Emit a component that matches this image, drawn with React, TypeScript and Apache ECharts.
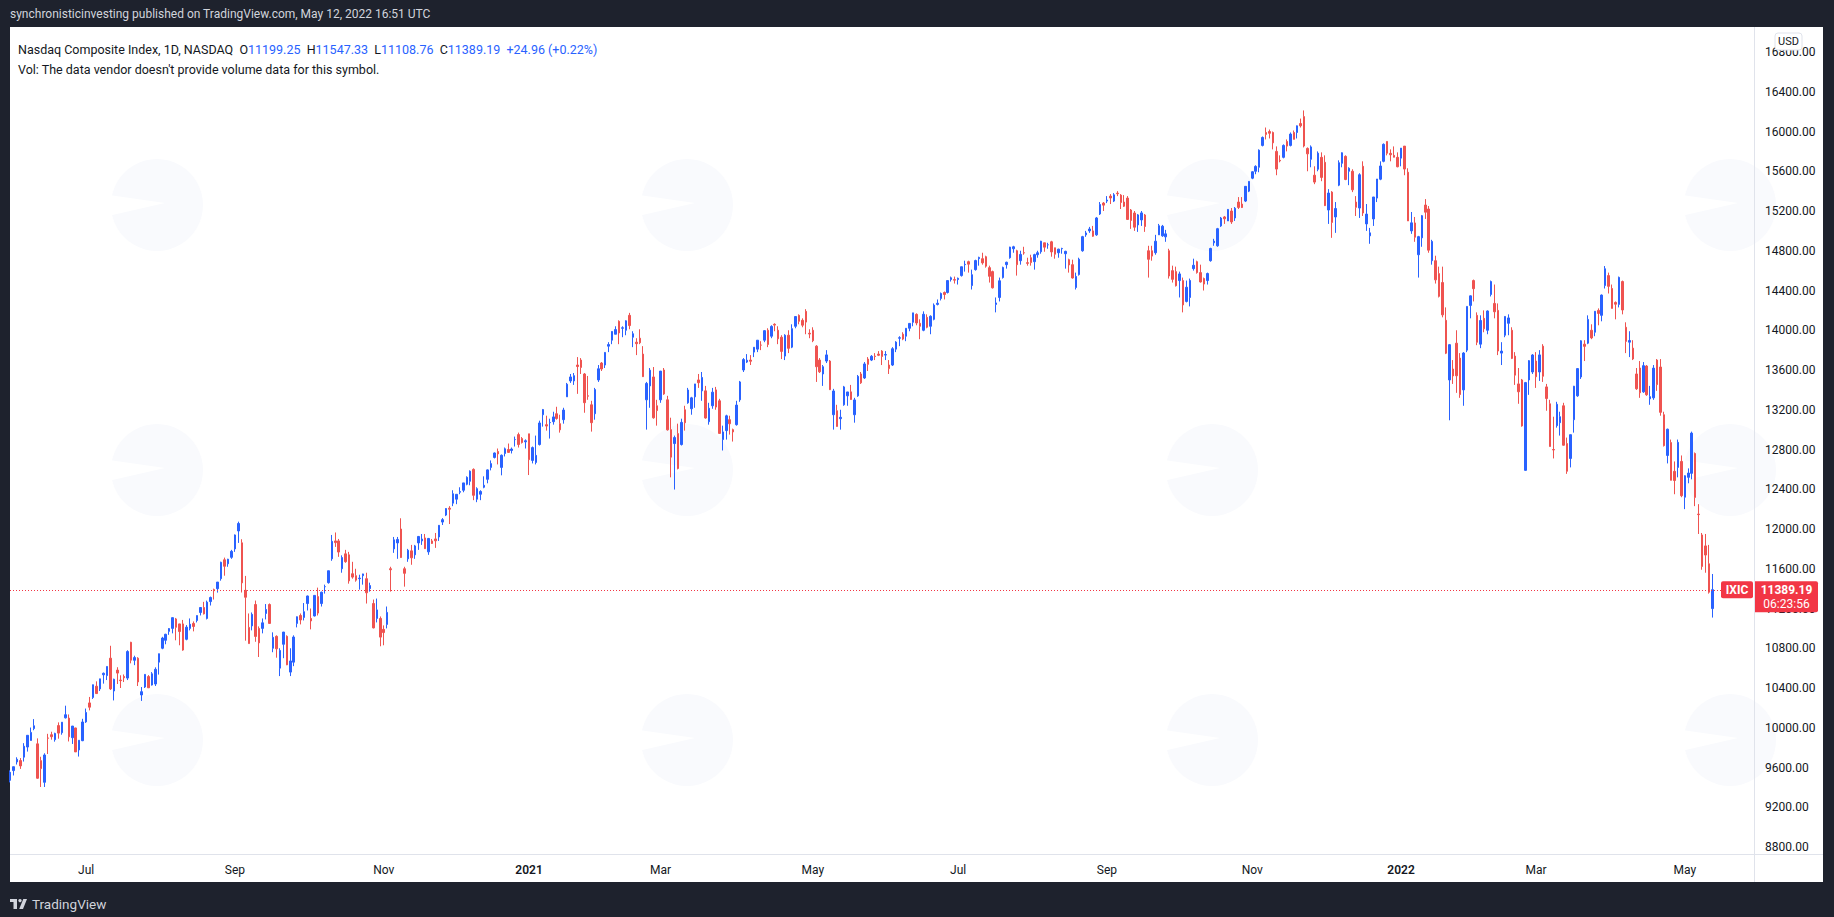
import React, { useEffect, useRef } from "react";
import * as echarts from "echarts";

// ---- Daily candles, Nasdaq Composite, [open, high, low, close] ----
const ohlc2020: number[][] = [
  // Jun
  [9471,9571,9450,9552],[9569,9608,9520,9608],[9656,9703,9630,9683],[9670,9695,9586,9616],[9704,9845,9660,9814],
  [9806,9925,9760,9924],[9872,10002,9870,9953],[9992,10087,9975,10020],[9838,9893,9487,9492],[9669,9708,9404,9589],
  [9451,9743,9404,9726],[9897,9939,9736,9895],[9930,9960,9880,9910],[9880,9950,9860,9943],[10022,10054,9890,9946],
  [9950,10057,9930,10056],[10100,10222,10093,10131],[10097,10134,9862,9909],[9900,10018,9837,10017],[9998,10000,9756,9757],
  [9777,9875,9710,9874],[9870,10090,9865,10058],
  // Jul
  [10059,10193,10049,10154],[10250,10310,10175,10207],[10305,10434,10290,10433],[10418,10467,10342,10344],[10391,10493,10370,10492],
  [10533,10556,10444,10548],[10525,10617,10480,10617],[10700,10825,10380,10391],[10370,10494,10275,10488],[10580,10609,10440,10550],
  [10480,10528,10400,10474],[10516,10536,10460,10503],[10500,10780,10480,10767],[10860,10865,10648,10680],[10679,10725,10630,10706],
  [10700,10710,10420,10461],[10330,10410,10270,10363],[10410,10540,10400,10537],[10515,10530,10400,10402],[10430,10560,10425,10543],
  [10440,10608,10420,10588],[10660,10746,10535,10745],
  // Aug
  [10800,10915,10790,10903],[10880,10945,10840,10941],[10970,11002,10935,10998],[11000,11110,10950,11108],[11095,11105,10880,11011],
  [11045,11046,10830,10968],[11045,11085,10775,10782],[10890,11033,10880,11012],[11000,11100,10980,11042],[11050,11070,10970,11019],
  [11080,11130,11060,11129],[11160,11212,11130,11210],[11210,11267,11140,11146],[11100,11279,11090,11264],[11270,11320,11230,11311],
  [11390,11400,11290,11379],[11400,11466,11360,11466],[11500,11671,11480,11665],[11690,11712,11530,11625],[11650,11700,11620,11696],
  [11715,11790,11700,11775],
  // Sep
  [11800,11945,11770,11940],[11980,12074,11860,12056],[11861,11897,11361,11458],[11383,11528,10876,11313],[11010,11150,10846,10847],
  [11025,11160,10980,11141],[11240,11280,10865,10919],[11000,11020,10712,10854],[11000,11100,10950,11056],[11150,11245,11090,11190],
  [11240,11251,11050,11050],[10800,10960,10760,10910],[10920,10930,10705,10794],[10600,10800,10520,10778],[10840,10964,10700,10963],
  [10920,10930,10630,10633],[10560,10800,10520,10672],[10660,10930,10620,10913],[11050,11120,11010,11117],[11130,11150,11040,11085],
  [11110,11255,11080,11168],
  // Oct
  [11250,11330,11180,11326],[11100,11200,10990,11075],[11125,11335,11120,11332],[11320,11410,11130,11154],[11250,11370,11220,11364],
  [11420,11440,11350,11420],[11460,11580,11450,11580],[11700,11940,11680,11876],[11880,11965,11820,11863],[11880,11900,11720,11768],
  [11600,11735,11560,11713],[11750,11790,11660,11671],[11740,11770,11450,11478],[11550,11670,11500,11516],[11530,11600,11470,11485],
  [11500,11540,11390,11506],[11530,11550,11440,11548],[11500,11560,11250,11358],[11400,11460,11370,11431],[11250,11290,11000,11005],
  [11100,11300,11060,11186],[11100,11120,10820,10912],
  // Nov
  [10990,11030,10830,10958],[11040,11220,11000,11161],[11600,11620,11370,11590],[11800,11920,11760,11891],[11860,11920,11700,11895],
  [12000,12108,11710,11713],[11600,11620,11420,11554],[11700,11800,11670,11786],[11780,11840,11640,11710],[11740,11840,11700,11830],
  [11860,11930,11790,11925],[11880,11950,11840,11899],[11910,11950,11800,11802],[11770,11910,11740,11905],[11880,11900,11850,11855],
  [11900,11960,11810,11881],[11920,12040,11880,12037],[12070,12110,12040,12094],[12140,12210,12130,12206],[12210,12230,12050,12199],
  // Dec
  [12260,12390,12230,12355],[12300,12350,12250,12349],[12370,12420,12350,12377],[12390,12464,12370,12464],[12450,12530,12440,12520],
  [12480,12590,12440,12582],[12600,12610,12290,12339],[12300,12420,12270,12406],[12350,12390,12290,12378],[12420,12530,12410,12440],
  [12500,12600,12460,12595],[12620,12690,12590,12658],[12720,12770,12710,12765],[12780,12810,12650,12756],[12620,12750,12540,12742],
  [12760,12820,12730,12807],[12800,12860,12770,12771],[12790,12820,12760,12805],[12900,12930,12830,12900],[12950,12970,12820,12850],
  [12910,12925,12860,12870],[12877,12902,12810,12888],
];

const ohlc2021: number[][] = [
  // Jan
  [12958,12958,12543,12698],[12690,12830,12660,12819],[12670,12940,12650,12741],[12850,13090,12840,13067],[13150,13208,13030,13202],
  [13050,13140,12990,13036],[13070,13110,12910,13072],[13080,13180,13050,13128],[13160,13230,13100,13112],[13060,13150,12970,12998],
  [13100,13220,13060,13197],[13330,13470,13330,13457],[13490,13560,13470,13530],[13490,13570,13450,13543],[13650,13730,13360,13635],
  [13700,13720,13560,13626],[13560,13570,13170,13271],[13340,13540,13300,13337],[13250,13290,12980,13070],
  // Feb
  [13160,13420,13100,13403],[13500,13650,13480,13612],[13670,13680,13590,13610],[13650,13780,13620,13777],[13840,13880,13780,13856],
  [13900,13990,13860,13988],[13960,14040,13960,14007],[14090,14100,13860,13973],[14020,14040,13930,14025],[14000,14100,13950,14095],
  [14150,14175,14010,14047],[13930,13990,13830,13965],[13880,13920,13750,13865],[13920,14010,13860,13874],[13760,13840,13530,13533],
  [13300,13480,13000,13465],[13440,13620,13220,13598],[13530,13630,13110,13119],[13240,13300,13040,13192],
  // Mar
  [13300,13590,13270,13589],[13600,13620,13350,13359],[13300,13340,12990,12998],[13000,13120,12520,12723],[12860,12940,12397,12920],
  [12960,13060,12600,12609],[12850,13110,12840,13073],[13200,13240,12990,13069],[13270,13420,13260,13399],[13210,13330,13150,13320],
  [13330,13460,13220,13460],[13500,13560,13420,13472],[13390,13580,13290,13525],[13390,13440,13110,13117],[13080,13270,13050,13215],
  [13240,13420,13210,13377],[13400,13430,13200,13227],[13290,13310,12960,12962],[12900,13040,12790,12977],[12990,13150,12900,13139],
  [13100,13140,12950,13059],[13000,13010,12880,12977],[13050,13290,13040,13247],
  // Apr
  [13300,13490,13280,13480],[13600,13720,13580,13705],[13680,13760,13670,13698],[13700,13750,13650,13688],[13780,13830,13730,13829],
  [13810,13900,13780,13900],[13850,13890,13800,13850],[13900,14000,13880,13996],[14000,14020,13830,13857],[13940,14050,13920,14039],
  [14060,14070,13990,14052],[14000,14040,13860,13914],[13930,13950,13710,13787],[13740,13960,13700,13950],[13950,14000,13770,13818],
  [13830,14060,13820,14016],[14040,14140,14020,14138],[14150,14160,14060,14090],[14100,14120,14030,14051],[14190,14212,13960,14082],
  [13970,14010,13920,13962],
  // May
  [14000,14030,13880,13895],[13840,13850,13480,13633],[13700,13720,13570,13582],[13560,13650,13440,13633],[13690,13800,13670,13752],
  [13690,13700,13400,13402],[13150,13410,13000,13389],[13190,13250,13030,13032],[13110,13200,13000,13124],[13250,13440,13240,13430],
  [13340,13380,13240,13379],[13380,13450,13300,13303],[13150,13320,13070,13299],[13340,13550,13330,13536],[13560,13580,13460,13471],
  [13520,13680,13510,13661],[13710,13730,13590,13657],[13700,13750,13690,13738],[13740,13770,13700,13736],[13760,13790,13740,13748],
  // Jun
  [13790,13800,13650,13736],[13750,13790,13700,13756],[13650,13700,13560,13614],[13650,13830,13640,13814],[13810,13890,13780,13881],
  [13920,13940,13840,13925],[13960,13980,13900,13911],[13940,14020,13890,14020],[14020,14070,13990,14069],[14080,14175,14040,14175],
  [14160,14170,14050,14073],[14070,14110,13910,14040],[14000,14190,13990,14161],[14130,14160,14020,14030],[14040,14150,13960,14141],
  [14110,14270,14100,14253],[14260,14310,14250,14272],[14320,14380,14300,14370],[14380,14390,14310,14360],[14380,14500,14370,14500],
  [14510,14540,14490,14528],[14510,14540,14470,14504],
  // Jul
  [14510,14530,14460,14523],[14550,14640,14540,14639],[14660,14700,14590,14663],[14690,14700,14580,14665],[14450,14610,14410,14559],
  [14610,14710,14600,14701],[14720,14740,14650,14733],[14720,14780,14660,14678],[14740,14750,14630,14645],[14630,14650,14480,14543],
  [14590,14600,14420,14427],[14260,14330,14180,14275],[14330,14530,14290,14498],[14530,14640,14520,14632],[14660,14690,14620,14684],
  [14730,14840,14720,14837],[14820,14850,14780,14840],[14800,14810,14550,14660],[14700,14800,14660,14763],[14780,14840,14760,14778],
  [14680,14730,14650,14673],
  // Aug
  [14730,14760,14650,14681],[14690,14770,14610,14761],[14760,14800,14730,14780],[14790,14900,14770,14896],[14880,14880,14790,14836],
  [14860,14880,14820,14860],[14890,14900,14740,14788],[14830,14830,14720,14765],[14780,14820,14730,14816],[14820,14830,14770,14823],
  [14770,14800,14620,14794],[14710,14720,14580,14657],[14660,14710,14520,14526],[14430,14580,14410,14542],[14560,14730,14550,14715],
  [14800,14950,14790,14942],[14960,15000,14940,14979],[15000,15040,14980,15019],[15000,15050,14940,14946],[14960,15140,14950,15130],
  [15170,15290,15160,15266],[15280,15290,15200,15259],
  // Sep
  [15300,15350,15280,15310],[15350,15370,15270,15331],[15300,15380,15290,15363],[15380,15400,15350,15374],[15360,15370,15220,15286],
  [15290,15360,15240,15248],[15330,15350,15110,15115],[15210,15220,15020,15105],[15180,15200,15000,15037],[15060,15170,14990,15161],
  [15110,15200,15050,15181],[15160,15170,14990,15044],[14800,14850,14530,14714],[14800,14850,14700,14746],[14780,14960,14760,14896],
  [14960,15070,14960,15052],[14950,15060,14940,15047],[14940,15010,14890,14970],[14800,14820,14520,14546],[14600,14650,14480,14512],
  [14590,14640,14440,14448],
  // Oct
  [14500,14590,14330,14567],[14500,14530,14180,14255],[14290,14500,14280,14433],[14330,14520,14240,14501],[14620,14720,14600,14654],
  [14690,14700,14570,14580],[14580,14660,14480,14486],[14520,14530,14400,14465],[14500,14580,14460,14571],[14700,14830,14690,14823],
  [14880,14920,14850,14897],[14850,15030,14840,15022],[15050,15140,15040,15129],[15140,15150,15070,15121],[15100,15220,15100,15216],
  [15200,15230,15070,15090],[15130,15240,15100,15227],[15290,15340,15220,15236],[15270,15340,15230,15235],[15300,15450,15290,15448],
  [15400,15500,15390,15498],
  // Nov
  [15530,15600,15520,15595],[15600,15660,15570,15649],[15640,15820,15590,15812],[15860,15950,15850,15940],[15990,16040,15920,15971],
  [16000,16020,15930,15982],[15990,16000,15820,15886],[15800,15850,15560,15622],[15710,15760,15690,15704],[15740,15870,15730,15860],
  [15900,15920,15800,15853],[15860,15990,15850,15974],[15990,16010,15920,15921],[15990,16060,15930,16057],[16080,16130,16040,16057],
  [16150,16212,15840,15854],[15830,15840,15600,15775],[15720,15860,15640,15845],[15560,15650,15470,15491],[15620,15800,15600,15782],
  [15740,15790,15500,15538],
  // Dec
  [15690,15760,15250,15254],[15210,15420,15070,15381],[15390,15400,14930,15085],[15140,15290,14980,15225],[15460,15710,15450,15686],
  [15680,15790,15640,15786],[15750,15760,15510,15517],[15600,15640,15460,15630],[15600,15620,15390,15413],[15290,15350,15150,15237],
  [15230,15580,15130,15565],[15650,15700,15150,15180],[15070,15270,15000,15169],[14950,15030,14870,14980],[15120,15340,15050,15341],
  [15330,15520,15290,15522],[15520,15700,15510,15653],[15700,15880,15690,15871],[15900,15900,15760,15781],[15780,15820,15700,15766],
  [15760,15850,15740,15741],[15740,15790,15640,15645],
];

const ohlc2022: number[][] = [
  // Jan
  [15732,15833,15650,15833],[15853,15853,15560,15622],[15590,15630,15100,15100],[15000,15190,14970,15081],[15080,15140,14890,14936],
  [14760,14950,14530,14942],[14930,15160,14840,15153],[15260,15320,15120,15188],[15220,15250,14780,14806],[14700,14910,14660,14894],
  [14700,14750,14470,14507],[14570,14640,14330,14341],[14480,14640,14130,14155],[14100,14230,13760,13769],[13500,13860,13094,13855],
  [13610,13700,13460,13540],[13870,14000,13370,13542],[13720,13770,13320,13353],[13400,13780,13240,13771],[13800,14240,13780,14240],
  // Feb
  [14250,14350,14120,14346],[14500,14510,14290,14418],[14150,14180,13850,13879],[13860,14150,13820,14098],[14120,14200,13980,14015],
  [14000,14200,13960,14194],[14360,14500,14340,14490],[14270,14460,14120,14186],[14200,14270,13750,13791],[13770,13880,13650,13790],
  [13950,14140,13930,14139],[14070,14160,13950,14124],[14000,14030,13710,13717],[13740,13780,13450,13548],[13460,13620,13260,13381],
  [13500,13510,13030,13037],[12590,13480,12587,13473],[13500,13700,13350,13694],[13580,13760,13560,13751],
  // Mar
  [13690,13780,13420,13532],[13580,13800,13490,13752],[13840,13860,13480,13537],[13430,13460,13190,13313],[13260,13300,12830,12830],
  [12800,13130,12710,12795],[13040,13280,13020,13255],[13070,13180,12940,13130],[13240,13270,12840,12843],[12860,12920,12555,12581],
  [12710,12950,12620,12949],[13100,13440,12970,13437],[13340,13620,13330,13614],[13530,13900,13510,13894],[13860,13900,13690,13838],
  [13870,14150,13860,14109],[14000,14060,13910,13923],[13980,14190,13940,14191],[14200,14220,14050,14169],[14150,14360,14090,14354],
  [14450,14646,14420,14619],[14550,14580,14370,14442],[14420,14460,14220,14220],
  // Apr
  [14280,14290,14110,14262],[14260,14540,14230,14532],[14490,14500,14160,14204],[14030,14080,13770,13888],[13880,13990,13730,13897],
  [13820,13900,13700,13711],[13560,13620,13400,13411],[13620,13690,13320,13371],[13380,13680,13370,13644],[13640,13650,13340,13351],
  [13310,13440,13250,13332],[13320,13650,13300,13619],[13700,13710,13390,13453],[13630,13710,13140,13174],[13150,13180,12830,12839],
  [12740,13010,12660,13004],[12870,12900,12490,12490],[12580,12680,12350,12488],[12620,12900,12520,12872],[12680,12740,12320,12335],
  // May
  [12320,12540,12200,12536],[12520,12610,12460,12563],[12560,12980,12500,12965],[12760,12770,12230,12318],[12150,12250,11950,12145],
  [11940,11960,11590,11623],[11830,11950,11560,11738],[11650,11840,11350,11364],[11199.25,11547.33,11108.76,11389.19],
];

const holidays = [
  "2020-07-03","2020-09-07","2020-11-26","2020-12-25",
  "2021-01-01","2021-01-18","2021-02-15","2021-04-02","2021-05-31","2021-07-05","2021-09-06","2021-11-25","2021-12-24",
  "2022-01-17","2022-02-21","2022-04-15",
];
const firstDay = "2020-06-01";
const lastDay = "2022-05-12";
const emptySlots = 12;
const monthNames = ["Jan","Feb","Mar","Apr","May","Jun","Jul","Aug","Sep","Oct","Nov","Dec"];
const yTicks = [8800,9200,9600,10000,10400,10800,11200,11600,12000,12400,12800,13200,13600,14000,14400,14800,15200,15600,16000,16400,16800];
const yMin = 8729.6;
const yMax = 17051.6;

const headerTitle = "synchronisticinvesting published on TradingView.com, May 12, 2022 16:51 UTC";
const symbolLine = "Nasdaq Composite Index, 1D, NASDAQ";
const volLine = "Vol: The data vendor doesn't provide volume data for this symbol.";
const lastChange = "+24.96 (+0.22%)";
const countdown = "06:23:56";

const UP = "#2962ff";
const DOWN = "#ef5350";
const TXT = "#131722";
const LINE = "#e0e3eb";
const FONT = "Roboto, 'Noto Sans', sans-serif";

function tradingDays(): string[] {
  const out: string[] = [];
  const d = new Date(firstDay + "T00:00:00Z");
  const end = new Date(lastDay + "T00:00:00Z");
  while (d <= end) {
    const wd = d.getUTCDay();
    const s = d.toISOString().slice(0, 10);
    if (wd !== 0 && wd !== 6 && holidays.indexOf(s) < 0) out.push(s);
    d.setUTCDate(d.getUTCDate() + 1);
  }
  return out;
}

export default function App() {
  const ref = useRef<HTMLDivElement>(null);
  useEffect(() => {
    if (!ref.current) return;
    const chart = echarts.init(ref.current, undefined, { renderer: "svg" });
    const rows = [...ohlc2020, ...ohlc2021, ...ohlc2022];
    const days = tradingDays();
    const cats = [...days];
    for (let i = 0; i < emptySlots; i++) cats.push("");
    const data = rows.map((r) => [r[0], r[3], r[2], r[1]]);
    const last = rows[rows.length - 1];

    const isLabel = (i: number) => {
      const s = cats[i];
      if (!s) return false;
      const m = Number(s.slice(5, 7));
      if (m % 2 === 0) return false;
      const prev = i > 0 ? cats[i - 1] : "";
      return !prev || prev.slice(5, 7) !== s.slice(5, 7);
    };

    chart.setOption({
      animation: false,
      backgroundColor: "transparent",
      grid: { left: 10, top: 27, width: 1744, height: 827, containLabel: false },
      xAxis: {
        type: "category",
        data: cats,
        boundaryGap: false,
        axisLine: { show: false },
        axisTick: { show: false },
        splitLine: { show: false },
        axisLabel: {
          interval: (i: number) => isLabel(i),
          margin: 10,
          color: TXT,
          fontSize: 12,
          fontFamily: FONT,
          formatter: (v: string) => {
            if (!v) return "";
            const m = Number(v.slice(5, 7));
            if (m === 1) return "{y|" + v.slice(0, 4) + "}";
            return monthNames[m - 1];
          },
          rich: { y: { fontWeight: 600, fontSize: 12, color: TXT, fontFamily: FONT } },
        },
      },
      yAxis: {
        type: "value",
        position: "right",
        min: yMin,
        max: yMax,
        axisLine: { show: false },
        axisTick: { show: false },
        splitLine: { show: false },
        axisLabel: {
          customValues: yTicks,
          margin: 11,
          color: TXT,
          fontSize: 12,
          fontFamily: FONT,
          formatter: (v: number) => v.toFixed(2),
        },
      },
      series: [
        {
          type: "candlestick",
          data,
          barWidth: 2,
          large: false,
          clip: true,
          itemStyle: { color: UP, color0: DOWN, borderColor: UP, borderColor0: DOWN, borderWidth: 1 },
        },
      ],
    });

    const py = chart.convertToPixel({ yAxisIndex: 0 }, last[3]) as number;

    const wm: any[] = [];
    [157, 687, 1212, 1730].forEach((cx) =>
      [205, 470, 740].forEach((cy) => {
        wm.push({ type: "circle", z: -5, silent: true, shape: { cx, cy, r: 46 }, style: { fill: "#f9fafd" } });
        wm.push({
          type: "polygon", z: -4, silent: true,
          shape: { points: [[cx - 62, cy - 12], [cx + 8, cy - 2], [cx - 62, cy + 14]] },
          style: { fill: "#ffffff" },
        });
      })
    );

    const ohlcRich = {
      d: { fill: TXT, fontSize: 12.5, fontFamily: FONT },
      b: { fill: UP, fontSize: 12.5, fontFamily: FONT },
    };
    const f2 = (v: number) => v.toFixed(2);

    chart.setOption({
      graphic: [
        { type: "rect", z: -10, silent: true, shape: { x: 10, y: 27, width: 1813, height: 855 }, style: { fill: "#ffffff" } },
        ...wm,
        { type: "line", z: 5, silent: true, shape: { x1: 1754.5, y1: 27, x2: 1754.5, y2: 882 }, style: { stroke: LINE, lineWidth: 1 } },
        { type: "line", z: 5, silent: true, shape: { x1: 10, y1: 854.5, x2: 1823, y2: 854.5 }, style: { stroke: LINE, lineWidth: 1 } },
        {
          type: "line", z: 4, silent: true,
          shape: { x1: 10, y1: Math.round(py) + 0.5, x2: 1721, y2: Math.round(py) + 0.5 },
          style: { stroke: "#f23645", lineWidth: 1, lineDash: [1, 2] },
        },
        { type: "rect", z: 20, shape: { x: 1775, y: 33, width: 27, height: 17, r: 3 }, style: { fill: "#fff", stroke: LINE, lineWidth: 1 } },
        { type: "text", z: 21, style: { text: "USD", x: 1788.5, y: 41.5, textAlign: "center", textVerticalAlign: "middle", fill: TXT, fontSize: 11, fontFamily: FONT } },
        { type: "rect", z: 20, shape: { x: 1721, y: py - 8.5, width: 32, height: 17, r: 2 }, style: { fill: "#f23645" } },
        { type: "text", z: 21, style: { text: "IXIC", x: 1737, y: py, textAlign: "center", textVerticalAlign: "middle", fill: "#fff", fontSize: 12, fontWeight: 700, fontFamily: FONT } },
        { type: "rect", z: 20, shape: { x: 1755, y: py - 8.5, width: 63, height: 31, r: [0, 2, 2, 0] }, style: { fill: "#f23645" } },
        { type: "text", z: 21, style: { text: f2(last[3]), x: 1786.5, y: py, textAlign: "center", textVerticalAlign: "middle", fill: "#fff", fontSize: 12, fontWeight: 700, fontFamily: FONT } },
        { type: "text", z: 21, style: { text: countdown, x: 1786.5, y: py + 14, textAlign: "center", textVerticalAlign: "middle", fill: "#fff", fontSize: 12, fontFamily: FONT } },
        { type: "text", z: 21, style: { text: headerTitle, x: 10, y: 14, textVerticalAlign: "middle", fill: "#d1d4dc", fontSize: 12, fontFamily: FONT } },
        {
          type: "text", z: 21,
          style: {
            x: 18, y: 49, textVerticalAlign: "middle",
            text:
              "{d|" + symbolLine + "  O}{b|" + f2(last[0]) + "}{d|  H}{b|" + f2(last[1]) + "}{d|  L}{b|" + f2(last[2]) +
              "}{d|  C}{b|" + f2(last[3]) + "}{b|  " + lastChange + "}",
            rich: ohlcRich,
          },
        },
        { type: "text", z: 21, style: { text: volLine, x: 18, y: 69, textVerticalAlign: "middle", fill: TXT, fontSize: 12.5, fontFamily: FONT } },
        // TradingView logo
        { type: "polygon", z: 21, shape: { points: [[10, 899], [17, 899], [17, 909], [13.5, 909], [13.5, 902], [10, 902]] }, style: { fill: "#d1d4dc" } },
        { type: "circle", z: 21, shape: { cx: 20, cy: 900.6, r: 1.7 }, style: { fill: "#d1d4dc" } },
        { type: "polygon", z: 21, shape: { points: [[23.3, 899], [27, 899], [23, 909], [19.2, 909]] }, style: { fill: "#d1d4dc" } },
        { type: "text", z: 21, style: { text: "TradingView", x: 32, y: 904, textVerticalAlign: "middle", fill: "#d1d4dc", fontSize: 13.5, fontFamily: FONT } },
        ...(rows.length !== days.length
          ? [{ type: "text", z: 30, style: { text: "COUNT " + rows.length + "/" + days.length, x: 800, y: 300, fill: "#000", fontSize: 30 } }]
          : []),
      ],
    });
    return () => chart.dispose();
  }, []);
  return (
    <div
      ref={ref}
      style={{ position: "absolute", left: 0, top: 0, width: 1834, height: 917, background: "#1e222d" }}
    />
  );
}
